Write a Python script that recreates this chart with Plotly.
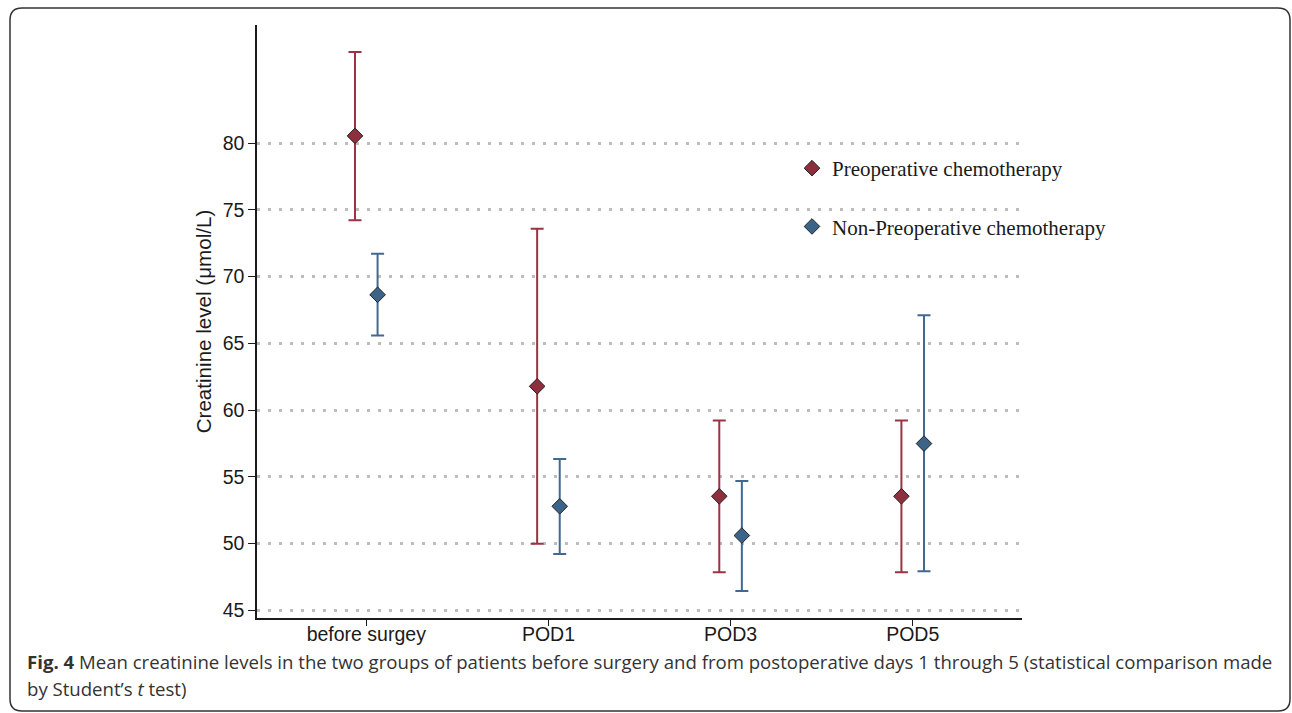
import plotly.graph_objects as go

categories = ["before surgey", "POD1", "POD3", "POD5"]
pre_mean = [80.55, 61.78, 53.54, 53.54]
pre_upper = [86.84, 73.59, 59.23, 59.23]
pre_lower = [74.23, 49.99, 47.85, 47.85]
non_mean = [68.64, 52.79, 50.60, 57.49]
non_upper = [71.71, 56.34, 54.69, 67.10]
non_lower = [65.59, 49.22, 46.45, 47.92]
y_ticks = [45, 50, 55, 60, 65, 70, 75, 80]

W, H = 1292, 713
L, R, T, B = 257, 1022, 25, 618
OFFSET = 0.062
RED = "#8E2F3D"
RED_LINE = "#9A3444"
BLUE = "#3C6489"
BLUE_LINE = "#42698F"

idx = list(range(len(categories)))

fig = go.Figure()

def add_series(name, mean, upper, lower, off, fill, line):
    fig.add_trace(go.Scatter(
        x=[i + off for i in idx], y=mean, mode="markers", name=name,
        marker=dict(symbol="diamond", size=12, color=fill,
                    line=dict(color="#222222", width=1)),
        error_y=dict(type="data", symmetric=False,
                     array=[u - m for u, m in zip(upper, mean)],
                     arrayminus=[m - l for m, l in zip(mean, lower)],
                     color=line, thickness=2, width=6.5),
        legendgroup=name,
    ))

add_series("Preoperative chemotherapy", pre_mean, pre_upper, pre_lower, -OFFSET, RED, RED_LINE)
add_series("Non-Preoperative chemotherapy", non_mean, non_upper, non_lower, OFFSET, BLUE, BLUE_LINE)

pw, ph = R - L, B - T
def px(x):
    return (x - L) / pw
def py(y):
    return (B - y) / ph

# rounded frame
x0, x1, y0, y1, r = 10, 1290, 8, 711, 12
rx, ry = r / pw, r / ph
path = (f"M {px(x0)+rx},{py(y0)} L {px(x1)-rx},{py(y0)} Q {px(x1)},{py(y0)} {px(x1)},{py(y0)-ry} "
        f"L {px(x1)},{py(y1)+ry} Q {px(x1)},{py(y1)} {px(x1)-rx},{py(y1)} "
        f"L {px(x0)+rx},{py(y1)} Q {px(x0)},{py(y1)} {px(x0)},{py(y1)+ry} "
        f"L {px(x0)},{py(y0)-ry} Q {px(x0)},{py(y0)} {px(x0)+rx},{py(y0)} Z")
fig.add_shape(type="path", path=path, xref="paper", yref="paper",
              line=dict(color="#333333", width=1.5), layer="above")

cap_font = "Open Sans, sans-serif"
fig.add_annotation(xref="paper", yref="paper", x=px(25), y=py(661), xanchor="left", yanchor="middle",
                   showarrow=False, align="left",
                   text="<b>Fig. 4</b> Mean creatinine levels in the two groups of patients before surgery and from postoperative days 1 through 5 (statistical comparison made",
                   font=dict(family=cap_font, size=18.6, color="#333333"))
fig.add_annotation(xref="paper", yref="paper", x=px(25), y=py(688), xanchor="left", yanchor="middle",
                   showarrow=False, align="left",
                   text="by Student’s <i>t</i> test)",
                   font=dict(family=cap_font, size=18.6, color="#333333"))

fig.update_layout(
    width=W, height=H,
    margin=dict(l=L, r=W - R, t=T, b=H - B),
    paper_bgcolor="white", plot_bgcolor="white",
    font=dict(family="Liberation Sans, Arial, sans-serif", size=19.5, color="#1a1a1a"),
    showlegend=True,
    legend=dict(x=px(792), y=py(148), xanchor="left", yanchor="top",
                bgcolor="rgba(0,0,0,0)", tracegroupgap=28,
                font=dict(family="Liberation Serif, Times New Roman, serif", size=21, color="#1a1a1a")),
    xaxis=dict(range=[-0.6, 3.6], tickmode="array", tickvals=idx, ticktext=categories,
               showgrid=False, zeroline=False, showline=True, linecolor="#1a1a1a", linewidth=1.5,
               ticks="outside", ticklen=6, tickwidth=1.2, tickcolor="#1a1a1a",
               ticklabelstandoff=-8),
    yaxis=dict(range=[44.42, 88.86], tickmode="array", tickvals=y_ticks,
               showgrid=True, gridcolor="#bdbdbd", gridwidth=2.6, griddash="3px,8px",
               zeroline=False, showline=True, linecolor="#1a1a1a", linewidth=1.5,
               ticks="outside", ticklen=7, tickwidth=1.2, tickcolor="#1a1a1a",
               title=dict(text="Creatinine level (μmol/L)", standoff=5, font=dict(size=20.6))),
)

fig.write_html("out.html")
